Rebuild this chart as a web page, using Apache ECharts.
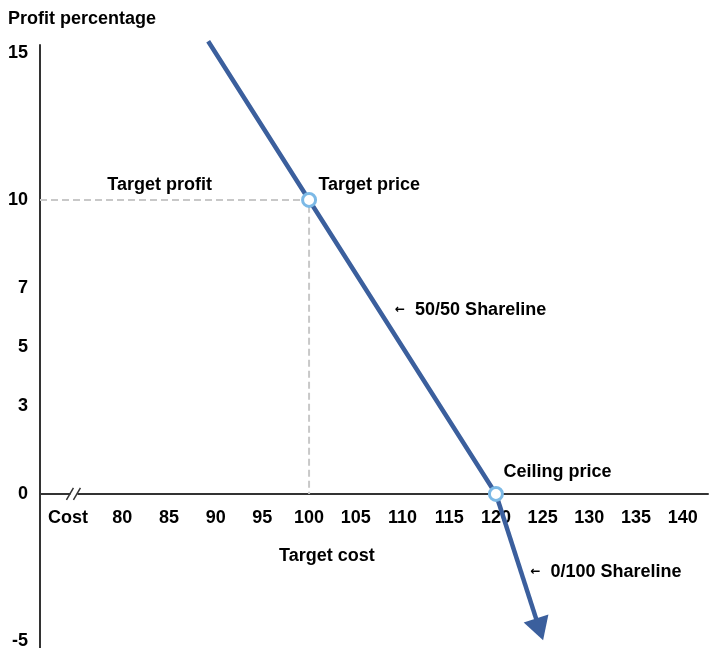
<!DOCTYPE html>
<html><head><meta charset="utf-8">
<script src="https://cdn.jsdelivr.net/npm/echarts@6/dist/echarts.min.js"></script>
<style>html,body{margin:0;padding:0;background:#fff}#c{width:712px;height:648px}</style>
</head><body><div id="c"></div>
<script>
// Data
var xTicks = [74.2, 80, 85, 90, 95, 100, 105, 110, 115, 120, 125, 130, 135, 140];
var xTickLabels = ['Cost', '80', '85', '90', '95', '100', '105', '110', '115', '120', '125', '130', '135', '140'];
var yTicks = [-5, 0, 3, 5, 7, 10, 15];
var shareline5050 = [[89.2, 15.4], [100, 10], [120, 0]];
var shareline0100 = [[120, 0], [125.05, -4.98]];
var keyPoints = [[100, 10], [120, 0]];
var guide = [[71.2, 10], [100, 10], [100, 0]];
var breakAt = [75.1, 0];
var annotations = [
  {name: 'Target profit', value: [84.0, 10.5], align: 'center'},
  {name: 'Target price', value: [101.0, 10.5], align: 'left'},
  {name: '{a|←} 50/50 Shareline', value: [109.2, 6.25], align: 'left'},
  {name: 'Ceiling price', value: [120.8, 0.75], align: 'left'},
  {name: 'Target cost', value: [101.9, -2.12], align: 'center'},
  {name: '{a|←} 0/100 Shareline', value: [123.7, -2.66], align: 'left'}
];

var FONT = '"Liberation Sans", Arial, sans-serif';
var FS = 18;
var YMIN = -5.24, YMAX = 15.27, GTOP = 45, GH = 603;
var zeroOffset = -GH * (0 - YMIN) / (YMAX - YMIN);
var LINE_COLOR = '#3b5f9d';
var chart = echarts.init(document.getElementById('c'), null, {renderer: 'canvas'});
chart.setOption({
  animation: false,
  grid: {left: 40, right: 4, top: GTOP, height: GH, containLabel: false, outerBoundsMode: 'none'},
  graphic: [{type: 'text', left: 8, top: 10, style: {text: 'Profit percentage', font: 'bold ' + FS + 'px ' + FONT, fill: '#000'}}],
  xAxis: {
    type: 'value', min: 71.2, max: 142.7, position: 'bottom', offset: zeroOffset,
    axisLine: {onZero: false, lineStyle: {color: '#333', width: 2}},
    axisTick: {show: false}, splitLine: {show: false},
    axisLabel: {
      customValues: xTicks, margin: 15, color: '#000', fontSize: FS, fontWeight: 'bold', fontFamily: FONT,
      formatter: function (v) { var i = xTicks.indexOf(v); return i >= 0 ? xTickLabels[i] : ''; }
    }
  },
  yAxis: {
    type: 'value', min: YMIN, max: YMAX,
    axisLine: {show: true, onZero: false, lineStyle: {color: '#333', width: 2}},
    axisTick: {show: false}, splitLine: {show: false},
    axisLabel: {customValues: yTicks, margin: 12, color: '#000', fontSize: FS, fontWeight: 'bold', fontFamily: FONT}
  },
  series: [
    {type: 'line', data: guide, symbol: 'none', z: 1, silent: true,
     lineStyle: {color: '#c8c8c8', width: 2, type: [7, 4]}},
    {type: 'custom', z: 3, silent: true, clip: false, data: [breakAt],
     renderItem: function (params, api) {
       var p = api.coord([api.value(0), api.value(1)]);
       return {type: 'group', children: [
         {type: 'rect', shape: {x: p[0] - 6, y: p[1] - 2, width: 7, height: 4}, style: {fill: '#fff'}},
         {type: 'line', shape: {x1: p[0] - 10, y1: p[1] + 6, x2: p[0] - 3, y2: p[1] - 6}, style: {stroke: '#333', lineWidth: 1.5}},
         {type: 'line', shape: {x1: p[0] - 3, y1: p[1] + 6, x2: p[0] + 4, y2: p[1] - 6}, style: {stroke: '#333', lineWidth: 1.5}}
       ]};
     }},
    {type: 'line', data: shareline5050, symbol: 'none', clip: false, z: 4,
     lineStyle: {color: LINE_COLOR, width: 4.5}},
    {type: 'custom', z: 4, silent: true, clip: false, data: [shareline0100[0].concat(shareline0100[1])],
     renderItem: function (params, api) {
       var a = api.coord([api.value(0), api.value(1)]);
       var b = api.coord([api.value(2), api.value(3)]);
       var dx = b[0] - a[0], dy = b[1] - a[1], L = Math.sqrt(dx * dx + dy * dy);
       var ux = dx / L, uy = dy / L, hl = 23, hw = 13;
       var bx = b[0] - ux * hl, by = b[1] - uy * hl;
       return {type: 'group', children: [
         {type: 'line', shape: {x1: a[0], y1: a[1], x2: bx + ux * 2, y2: by + uy * 2}, style: {stroke: LINE_COLOR, lineWidth: 4.5}},
         {type: 'polygon', shape: {points: [[b[0], b[1]], [bx - uy * hw, by + ux * hw], [bx + uy * hw, by - ux * hw]]}, style: {fill: LINE_COLOR}}
       ]};
     }},
    {type: 'scatter', data: keyPoints, symbol: 'circle', symbolSize: 13, z: 6,
     itemStyle: {color: '#fff', borderColor: '#7cb9e6', borderWidth: 3, opacity: 1}},
    {type: 'scatter', data: annotations.map(function (a) {
        return {name: a.name, value: a.value, label: {align: a.align}};
      }), symbolSize: 0, z: 7, silent: true, itemStyle: {opacity: 1},
     label: {show: true, position: 'inside', formatter: '{b}', color: '#000', fontSize: FS, fontWeight: 'bold', fontFamily: FONT,
       verticalAlign: 'middle', opacity: 1,
       rich: {a: {fontSize: 12, fontWeight: 'bold', color: '#000', fontFamily: 'DejaVu Sans', padding: [0, 5, 0, 0]}}}}
  ]
});
</script></body></html>
